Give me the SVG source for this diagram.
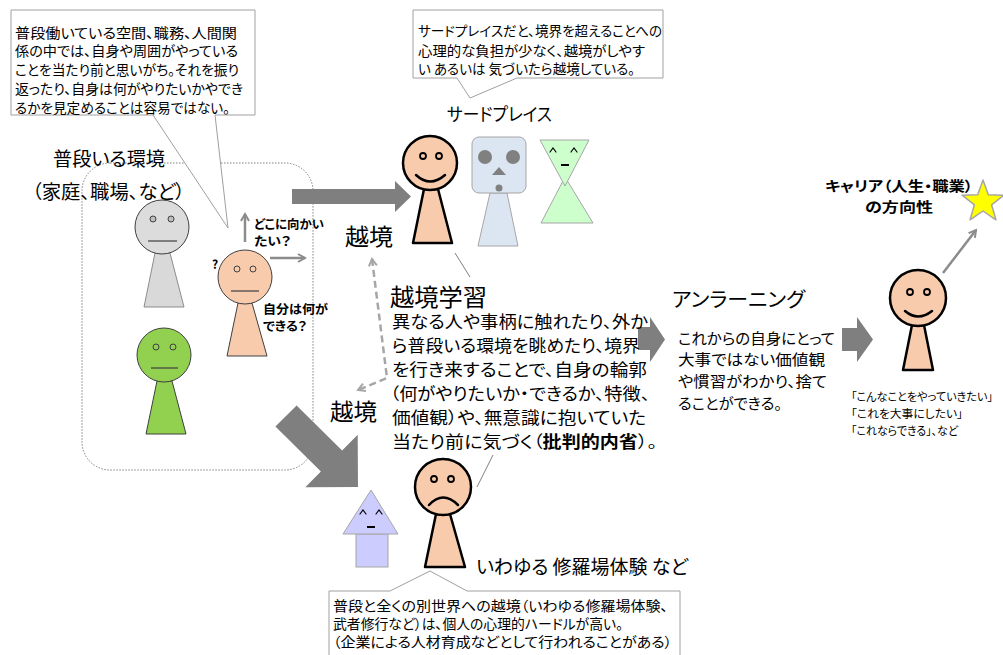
<svg xmlns="http://www.w3.org/2000/svg" width="1003" height="655" viewBox="0 0 1003 655">
  <style>
    text { font-family: "Noto Sans CJK JP", "Noto Sans", sans-serif; fill: #000; dominant-baseline: central; font-feature-settings: "palt"; }
    .callout { fill: #fff; stroke: #a0a0a0; stroke-width: 1; }
    .thin { fill: none; stroke: #808080; stroke-width: 1; }
    .block { fill: #7f7f7f; stroke: none; }
    .garrow { fill: none; stroke: #8c8c8c; stroke-width: 2.5; }
    .dash { fill: none; stroke: #a6a6a6; stroke-width: 2.5; stroke-dasharray: 7 4; }
    .peach { fill: #f8cbad; }
    .bold { font-weight: 700; }
    .face { fill: none; stroke: #000; stroke-width: 1.2; stroke-linecap: round; }
  </style>
  <defs>
    <marker id="vheadg" viewBox="0 0 10 10" refX="8" refY="5" markerWidth="4" markerHeight="4" orient="auto-start-reverse">
      <path d="M1,1 L8,5 L1,9" fill="none" stroke="#8c8c8c" stroke-width="2"/>
    </marker>
    <marker id="vheadd" viewBox="0 0 10 10" refX="8" refY="5" markerWidth="4" markerHeight="4" orient="auto-start-reverse">
      <path d="M1,1 L8,5 L1,9" fill="none" stroke="#a6a6a6" stroke-width="2"/>
    </marker>
  </defs>

  <rect width="1003" height="655" fill="#fff"/>

  <!-- usual environment frame -->
  <g id="usual-env">
    <rect x="82" y="163" width="231" height="307" rx="28" fill="none" stroke="#808080" stroke-width="1" stroke-dasharray="1.5 1.5"/>
    <text x="53" y="157" font-size="19" textLength="112" lengthAdjust="spacingAndGlyphs">普段いる環境</text>
    <text x="32" y="190" font-size="19" textLength="153" lengthAdjust="spacingAndGlyphs">（家庭、職場、など）</text>
  </g>

  <!-- connectors -->
  <g id="connectors">
    <!-- big horizontal arrow -->
    <polygon class="block" points="292,189 395,189 395,181 411,196.5 395,212 395,204 292,204"/>
    <!-- big diagonal arrow -->
    <polygon class="block" points="296.6,405.4 342.1,450.4 357.7,434.8 358,487 305.3,487.2 320.9,471.6 275.4,426.6"/>
    <!-- block arrows to unlearning and to the result -->
    <polygon class="block" points="638,327 650,327 650,317 665,339.5 650,362 650,350 638,350"/>
    <polygon class="block" points="842,328 857,328 857,317 873,339.5 857,362 857,351 842,351"/>
    <!-- questions of the person -->
    <line class="garrow" x1="245" y1="242" x2="245" y2="214" marker-end="url(#vheadg)"/>
    <line class="garrow" x1="270" y1="258" x2="305" y2="258" marker-end="url(#vheadg)"/>
    <!-- towards career direction -->
    <line class="garrow" x1="943" y1="273" x2="976" y2="230" marker-end="url(#vheadg)"/>
    <!-- two-way dashed crossing -->
    <polyline class="dash" points="372,259 387,378 358,390" marker-start="url(#vheadd)" marker-end="url(#vheadd)"/>
    <!-- pointer lines -->
    <line class="thin" x1="455" y1="253" x2="470" y2="277"/>
    <line class="thin" x1="493" y1="455" x2="477" y2="487"/>
  </g>

  <!-- top-left callout -->
  <g id="callout-usual">
    <path class="callout" d="M11,10 H255 V115 H215 L228,228 L153,115 H11 Z"/>
    <text x="15" y="31.5" font-size="14" textLength="222" lengthAdjust="spacingAndGlyphs">普段働いている空間、職務、人間関</text>
    <text x="15" y="50" font-size="14" textLength="223" lengthAdjust="spacingAndGlyphs">係の中では、自身や周囲がやっている</text>
    <text x="15" y="69" font-size="14" textLength="224" lengthAdjust="spacingAndGlyphs">ことを当たり前と思いがち。それを振り</text>
    <text x="15" y="88" font-size="14" textLength="228" lengthAdjust="spacingAndGlyphs">返ったり、自身は何がやりたいかやでき</text>
    <text x="15" y="106.5" font-size="14" textLength="215" lengthAdjust="spacingAndGlyphs">るかを見定めることは容易ではない。</text>
  </g>

  <!-- third place callout -->
  <g id="callout-third">
    <path class="callout" d="M413,10 H663 V78 H517 L470,98 L457,78 H413 Z"/>
    <text x="418" y="30" font-size="13.5" textLength="244" lengthAdjust="spacingAndGlyphs">サードプレイスだと、境界を超えることへの</text>
    <text x="418" y="49.5" font-size="13.5" textLength="227" lengthAdjust="spacingAndGlyphs">心理的な負担が少なく、越境がしやす</text>
    <text x="418" y="68" font-size="13.5" textLength="217" lengthAdjust="spacingAndGlyphs">い あるいは 気づいたら越境している。</text>
  </g>

  <!-- people in the usual environment -->
  <g id="person-gray">
    <polygon points="155,253 170,253 184,307 144,307" fill="#d9d9d9" stroke="#8c8c8c" stroke-width="1"/>
    <circle cx="162" cy="227" r="27" fill="#dcdcdc" stroke="#404040" stroke-width="1"/>
    <circle cx="153" cy="219" r="3" fill="#bfbfbf" stroke="#404040" stroke-width="1"/>
    <circle cx="171" cy="219" r="3" fill="#bfbfbf" stroke="#404040" stroke-width="1"/>
    <line x1="148" y1="241" x2="177" y2="241" stroke="#404040" stroke-width="1.2"/>
  </g>
  <g id="person-green">
    <polygon points="157,381 172,381 186,434 146,434" fill="#92d050" stroke="#404040" stroke-width="1"/>
    <circle cx="164" cy="355" r="27" fill="#92d050" stroke="#404040" stroke-width="1"/>
    <circle cx="156" cy="347" r="3" fill="#92d050" stroke="#404040" stroke-width="1"/>
    <circle cx="173" cy="347" r="3" fill="#92d050" stroke="#404040" stroke-width="1"/>
    <line x1="151" y1="368" x2="178" y2="368" stroke="#404040" stroke-width="1.2"/>
  </g>
  <g id="person-self">
    <polygon class="peach" points="238,303 252,303 267,356 227,356" stroke="#404040" stroke-width="1"/>
    <circle class="peach" cx="245" cy="277" r="27" stroke="#404040" stroke-width="1"/>
    <circle class="peach" cx="237" cy="269" r="3" stroke="#404040" stroke-width="1"/>
    <circle class="peach" cx="253" cy="269" r="3" stroke="#404040" stroke-width="1"/>
    <line x1="231" y1="291" x2="259" y2="291" stroke="#404040" stroke-width="1.2"/>
    <text class="bold" x="212" y="263" font-size="12">?</text>
    <text class="bold" x="254" y="223" font-size="12.5" textLength="70" lengthAdjust="spacingAndGlyphs">どこに向かい</text>
    <text class="bold" x="254" y="240" font-size="12.5" textLength="37" lengthAdjust="spacingAndGlyphs">たい？</text>
    <text class="bold" x="263" y="308" font-size="12.5" textLength="65" lengthAdjust="spacingAndGlyphs">自分は何が</text>
    <text class="bold" x="263" y="325" font-size="12.5" textLength="44" lengthAdjust="spacingAndGlyphs">できる？</text>
  </g>

  <!-- crossing labels -->
  <g id="label-cross-upper">
    <text x="345" y="235" font-size="23" textLength="48" lengthAdjust="spacingAndGlyphs">越境</text>
  </g>
  <g id="label-cross-lower">
    <text x="330" y="410" font-size="23" textLength="47" lengthAdjust="spacingAndGlyphs">越境</text>
  </g>

  <!-- third place -->
  <g id="third-place">
    <text x="447" y="113" font-size="18" textLength="105" lengthAdjust="spacingAndGlyphs">サードプレイス</text>
  </g>
  <g id="person-happy">
    <polygon class="peach" points="424,189 438,189 452,243 413,243" stroke="#000" stroke-width="2.5" stroke-linejoin="round"/>
    <circle class="peach" cx="430" cy="163" r="27" stroke="#000" stroke-width="2.5"/>
    <circle cx="423" cy="156" r="3" fill="none" stroke="#000" stroke-width="1.8"/>
    <circle cx="439" cy="156" r="3" fill="none" stroke="#000" stroke-width="1.8"/>
    <path d="M416,175 Q430,188 445,175" fill="none" stroke="#000" stroke-width="2.5" stroke-linecap="round"/>
  </g>
  <g id="robot">
    <polygon points="490,193 507,193 518,246 478,246" fill="#dce6f2" stroke="#a6a6a6" stroke-width="1"/>
    <rect x="472" y="137" width="54" height="56" rx="7" fill="#dce6f2" stroke="#a6a6a6" stroke-width="1"/>
    <circle cx="485" cy="157" r="7" fill="#808080"/>
    <circle cx="513" cy="157" r="7" fill="#808080"/>
    <polygon points="499,167 506,175 492,175" fill="#808080"/>
    <circle cx="499" cy="188" r="3.5" fill="#808080"/>
  </g>
  <g id="hourglass">
    <polygon points="565,177 593,223 541,223" fill="#ccffcc" stroke="#a6a6a6" stroke-width="1"/>
    <polygon points="540,140 589,140 565,186" fill="#ccffcc" stroke="#a6a6a6" stroke-width="1"/>
    <path class="face" d="M550,152 L553,148 L556,152 M571,152 L574,148 L577,152"/>
    <line x1="561" y1="165" x2="569" y2="165" stroke="#000" stroke-width="2"/>
  </g>

  <!-- boundary-crossing learning -->
  <g id="cross-learning">
    <text x="390" y="295" font-size="24" textLength="97" lengthAdjust="spacingAndGlyphs">越境学習</text>
    <text x="392" y="321" font-size="16.5" textLength="256" lengthAdjust="spacingAndGlyphs">異なる人や事柄に触れたり、外か</text>
    <text x="392" y="345" font-size="16.5" textLength="248" lengthAdjust="spacingAndGlyphs">ら普段いる環境を眺めたり、境界</text>
    <text x="392" y="369" font-size="16.5" textLength="255" lengthAdjust="spacingAndGlyphs">を行き来することで、自身の輪郭</text>
    <text x="390" y="393" font-size="16.5" textLength="260" lengthAdjust="spacingAndGlyphs">（何がやりたいか・できるか、特徴、</text>
    <text x="392" y="417" font-size="16.5" textLength="254" lengthAdjust="spacingAndGlyphs">価値観）や、無意識に抱いていた</text>
    <text x="392" y="441" font-size="16.5" textLength="265" lengthAdjust="spacingAndGlyphs">当たり前に気づく（<tspan class="bold">批判的内省</tspan>）。</text>
  </g>

  <!-- unlearning -->
  <g id="unlearning">
    <text x="672" y="298" font-size="20" textLength="133" lengthAdjust="spacingAndGlyphs">アンラーニング</text>
    <text x="678" y="337" font-size="15" textLength="157" lengthAdjust="spacingAndGlyphs">これからの自身にとって</text>
    <text x="678" y="358.5" font-size="15" textLength="147" lengthAdjust="spacingAndGlyphs">大事ではない価値観</text>
    <text x="678" y="380.5" font-size="15" textLength="149" lengthAdjust="spacingAndGlyphs">や慣習がわかり、捨て</text>
    <text x="678" y="402.5" font-size="15" textLength="104" lengthAdjust="spacingAndGlyphs">ることができる。</text>
  </g>

  <!-- person with a direction -->
  <g id="person-result">
    <polygon class="peach" points="912,325 924,325 933,370 903,370" stroke="#000" stroke-width="2.5" stroke-linejoin="round"/>
    <circle class="peach" cx="918" cy="298" r="28" stroke="#000" stroke-width="2.5"/>
    <circle cx="910" cy="292" r="3" fill="none" stroke="#000" stroke-width="1.8"/>
    <circle cx="927" cy="292" r="3" fill="none" stroke="#000" stroke-width="1.8"/>
    <path d="M905,311 Q918,322 932,311" fill="none" stroke="#000" stroke-width="2.5" stroke-linecap="round"/>
    <text x="851" y="396" font-size="11.5" textLength="142" lengthAdjust="spacingAndGlyphs">「こんなことをやっていきたい」</text>
    <text x="851" y="413" font-size="11.5" textLength="112" lengthAdjust="spacingAndGlyphs">「これを大事にしたい」</text>
    <text x="851" y="430" font-size="11.5" textLength="107" lengthAdjust="spacingAndGlyphs">「これならできる」、など</text>
  </g>

  <!-- career direction -->
  <g id="career">
    <text class="bold" x="825" y="185" font-size="14" textLength="148" lengthAdjust="spacingAndGlyphs">キャリア（人生・職業）</text>
    <text class="bold" x="865" y="205.5" font-size="14" textLength="68" lengthAdjust="spacingAndGlyphs">の方向性</text>
    <polygon points="983,180 988.3,194.7 1003.9,195.2 991.6,204.8 995.9,219.8 983,211 970.1,219.8 974.4,204.8 962.1,195.2 977.7,194.7" fill="#ffff00" stroke="#a6a6a6" stroke-width="1.5" stroke-linejoin="round"/>
  </g>

  <!-- tough assignments -->
  <g id="person-sad">
    <polygon class="peach" points="436,514 450,514 465,567 425,567" stroke="#000" stroke-width="2.5" stroke-linejoin="round"/>
    <circle class="peach" cx="443" cy="487" r="28" stroke="#000" stroke-width="2.5"/>
    <circle cx="434" cy="479" r="3" fill="none" stroke="#000" stroke-width="1.8"/>
    <circle cx="451" cy="479" r="3" fill="none" stroke="#000" stroke-width="1.8"/>
    <path d="M429,505 Q443,490 458,505" fill="none" stroke="#000" stroke-width="2.5" stroke-linecap="round"/>
    <text x="476" y="565" font-size="19" textLength="212" lengthAdjust="spacingAndGlyphs">いわゆる 修羅場体験 など</text>
  </g>
  <g id="arrow-person">
    <rect x="356" y="534" width="32" height="33" fill="#ccccff" stroke="#a6a6a6" stroke-width="1"/>
    <polygon points="371,490 398,534 343,534" fill="#ccccff" stroke="#a6a6a6" stroke-width="1"/>
    <path class="face" d="M360,514 L363,510 L366,514 M376,514 L379,510 L382,514"/>
    <line x1="367" y1="527" x2="375" y2="527" stroke="#000" stroke-width="2"/>
  </g>

  <!-- bottom callout -->
  <g id="callout-tough">
    <path class="callout" d="M329,591 H390 L430,571 L467,591 H680 V660 H329 Z"/>
    <text x="333" y="605" font-size="14" textLength="335" lengthAdjust="spacingAndGlyphs">普段と全くの別世界への越境（いわゆる修羅場体験、</text>
    <text x="333" y="623" font-size="14" textLength="290" lengthAdjust="spacingAndGlyphs">武者修行など）は、個人の心理的ハードルが高い。</text>
    <text x="333" y="641" font-size="14" textLength="339" lengthAdjust="spacingAndGlyphs">（企業による人材育成などとして行われることがある）</text>
  </g>
</svg>
